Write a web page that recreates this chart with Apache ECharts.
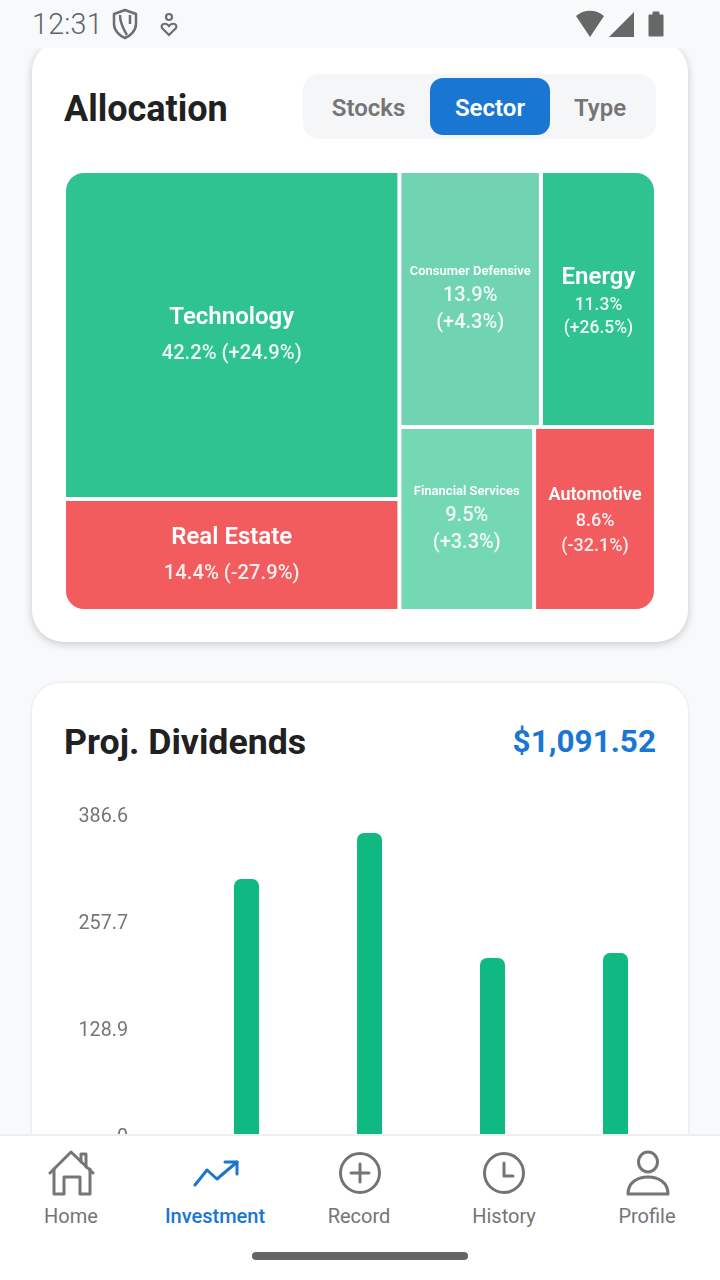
<!DOCTYPE html>
<html>
<head>
<meta charset="utf-8">
<script src="https://cdn.jsdelivr.net/npm/echarts@6/dist/echarts.min.js"></script>
<style>
html, body { margin: 0; padding: 0; background: #f8f9fb; }
body { width: 720px; height: 1280px; position: relative; overflow: hidden; font-family: Roboto, sans-serif; }
.abs { position: absolute; }
#scroll { left: 0; top: 48px; width: 720px; height: 1086px; overflow: hidden; }
.card { position: absolute; left: 32px; width: 656px; background: #fff; box-sizing: border-box; }
#card1 { top: -8px; height: 602px; border-radius: 32px; box-shadow: 0 2px 8px rgba(0,0,0,0.2); }
#card2 { top: 635px; height: 640px; border-radius: 28px; box-shadow: 0 0 3px rgba(0,0,0,0.12); }
.title { position: absolute; left: 64px; font-weight: 700; color: #212121; line-height: 40px; }
#tabs { position: absolute; left: 303px; top: 74px; width: 353px; height: 65px; background: #f5f6f8; border-radius: 16px; }
.tab { position: absolute; top: 4px; height: 57px; line-height: 61px; text-align: center; font-size: 24px; font-weight: 600; color: #757575; }
.tab.on { background: #1976d2; color: #fff; border-radius: 13px; }
#total { position: absolute; right: 64px; top: 722px; font-size: 31.5px; font-weight: 700; color: #1976d2; line-height: 40px; }
#treemap { position: absolute; left: 66px; top: 173px; width: 588px; height: 436px; border-radius: 18px; overflow: hidden; }
#bars { position: absolute; left: 32px; top: 780px; width: 656px; height: 400px; }
#nav { left: 0; top: 1134px; width: 720px; height: 146px; background: #fff; border-top: 2px solid #eeeeee; box-sizing: border-box; }
.nav-item { position: absolute; top: 1204px; width: 140px; text-align: center; font-size: 20px; line-height: 24px; color: #757575; }
.nav-item.on { color: #1976d2; font-weight: 500; }
.nav-ico { position: absolute; top: 1149px; width: 48px; height: 48px; fill: none; stroke: #757575; stroke-width: 3; stroke-linecap: round; stroke-linejoin: round; }
#homebar { left: 252px; top: 1252px; width: 216px; height: 8px; border-radius: 4px; background: #666; }
#time { left: 32px; top: 7px; font-size: 28.6px; font-weight: 300; line-height: 34px; color: #5f6368; letter-spacing: 0.3px; }
</style>
</head>
<body>
<div class="abs" id="time">12:31</div>
<svg class="abs" style="left:110px;top:8px" width="30" height="32" viewBox="0 0 30 32" fill="none" stroke="#6b6f72" stroke-width="2.5" stroke-linejoin="round"><path d="M15 2 L26 6 V16 C26 23 20 28 15 30 C10 28 4 23 4 16 V6 Z"/><path d="M10 7 C10 16 14 22 17 27 M20 7 V16"/></svg>
<svg class="abs" style="left:158px;top:12px" width="22" height="26" viewBox="0 0 22 26" fill="none" stroke="#6b6f72" stroke-width="2.2"><circle cx="11" cy="5" r="3"/><path d="M11 23 L4 16 C2 12 8 10 11 14 C14 10 20 12 18 16 Z"/></svg>
<svg class="abs" style="left:574px;top:10px" width="94" height="28" viewBox="0 0 94 28" fill="#656866"><path d="M2 6 C10 -1 22 -1 30 6 L16 27 Z"/><path d="M35 27 L60 2 V27 Z"/><path d="M75 5 H79 V2 H85 V5 H89 V26 H75 Z" stroke="#656866" stroke-linejoin="round"/></svg>

<div class="abs" id="scroll">
  <div class="card" id="card1"></div>
  <div class="card" id="card2"></div>
</div>

<div class="title" style="top:89px;font-size:36px">Allocation</div>
<div id="tabs">
  <div class="tab" style="left:2px;width:127px">Stocks</div>
  <div class="tab on" style="left:127px;width:120px">Sector</div>
  <div class="tab" style="left:247px;width:100px">Type</div>
</div>
<div id="treemap"></div>

<div class="title" style="top:722px;font-size:35.7px">Proj. Dividends</div>
<div id="total">$1,091.52</div>
<div id="bars"></div>

<div class="abs" id="nav"></div>
<svg class="nav-ico" style="left:47px" viewBox="0 0 48 48"><path d="M3 24 L24 3 L46 24"/><path d="M7 20 V45 H17 V28 H33 V45 H43 V20"/><path d="M34 13 V5 H39 V18"/></svg>
<svg class="nav-ico" style="left:191px;stroke:#1976d2" viewBox="0 0 48 48"><path d="M4 36 L16 21 L26 30 L46 13"/><path d="M34 13 H46 V25"/></svg>
<svg class="nav-ico" style="left:336px" viewBox="0 0 48 48"><circle cx="24" cy="24" r="19.5"/><path d="M24 15 V33 M15 24 H33"/></svg>
<svg class="nav-ico" style="left:480px" viewBox="0 0 48 48"><circle cx="24" cy="24" r="19.5"/><path d="M24 14 V27 H33"/></svg>
<svg class="nav-ico" style="left:624px" viewBox="0 0 48 48"><ellipse cx="24" cy="13" rx="9.5" ry="10"/><path d="M4 45 C4 33 14 28 24 28 C34 28 44 33 44 45 Z"/></svg>
<div class="nav-item" style="left:1px;">Home</div>
<div class="nav-item on" style="left:145px;">Investment</div>
<div class="nav-item" style="left:289px;">Record</div>
<div class="nav-item" style="left:434px;">History</div>
<div class="nav-item" style="left:577px;">Profile</div>
<div class="abs" id="homebar"></div>

<script>
// allocation by sector
var sectorNames = ['Technology', 'Real Estate', 'Consumer Defensive', 'Energy', 'Financial Services', 'Automotive'];
var sectorWeights = [42.2, 14.4, 13.9, 11.3, 9.5, 8.6];
var sectorChanges = ['+24.9%', '-27.9%', '+4.3%', '+26.5%', '+3.3%', '-32.1%'];

// projected dividends, x labels sit below the nav bar and are not visible
var divPeriods = ['P1', 'P2', 'P3', 'P4'];
var divValues = [309.5, 364.9, 214.4, 220.4];
var divMax = 386.6;

// tile grouping so the layout comes out the same as the picture
var tileTree = [
	['Technology', 'Real Estate'],
	[['Consumer Defensive', 'Energy'], ['Financial Services', 'Automotive']]
];

// label look of each tile. pad pushes the text down, rich text in a treemap tile starts at the top
var tileStyle = {
	'Technology': { color: '#2fc391', name: 24, num: 20.2, nameLh: 36, numLh: 36, pad: 127, wrap: false },
	'Real Estate': { color: '#f35c5e', name: 24, num: 20.2, nameLh: 36, numLh: 36, pad: 19, wrap: false },
	'Consumer Defensive': { color: '#70d3b2', name: 13, num: 20, nameLh: 21, numLh: 27, pad: 88, wrap: true },
	'Energy': { color: '#2fc391', name: 24, num: 17.5, nameLh: 33, numLh: 23, pad: 88, wrap: true },
	'Financial Services': { color: '#75d8b5', name: 13, num: 20, nameLh: 21, numLh: 27, pad: 52, wrap: true },
	'Automotive': { color: '#f35c5e', name: 18, num: 18, nameLh: 27.5, numLh: 24.5, pad: 53, wrap: true }
};

function leaf(name) {
	var i = sectorNames.indexOf(name);
	var st = tileStyle[name];
	var line = sectorWeights[i].toFixed(1) + '%' + (st.wrap ? '\n' : ' ') + '(' + sectorChanges[i] + ')';
	var txt = '{n|' + name + '}\n' + line.split('\n').map(function(l) { return '{v|' + l + '}'; }).join('\n');
	return {
		name: name,
		value: sectorWeights[i],
		itemStyle: { color: st.color },
		label: {
			padding: [st.pad, 0, 0, 0],
			formatter: txt,
			rich: {
				n: { fontFamily: 'Roboto', fontSize: st.name, fontWeight: 600, color: '#fff', lineHeight: st.nameLh, align: 'center' },
				v: { fontFamily: 'Roboto', fontSize: st.num, fontWeight: 500, color: 'rgba(255,255,255,0.9)', lineHeight: st.numLh, align: 'center' }
			}
		}
	};
}

function build(node) {
	if (typeof node === 'string') return leaf(node);
	var kids = node.map(build);
	var sum = 0;
	for (var i = 0; i < kids.length; i++) sum += kids[i].value;
	return { name: '', value: sum, children: kids };
}

var treeChart = echarts.init(document.getElementById('treemap'));
treeChart.setOption({
	animation: false,
	series: [{
		type: 'treemap',
		left: 0, top: 0, right: 0, bottom: 0,
		roam: false,
		nodeClick: false,
		silent: true,
		squareRatio: 1,
		breadcrumb: { show: false },
		itemStyle: { gapWidth: 4, borderWidth: 0, borderColor: '#fff' },
		upperLabel: { show: false },
		label: { show: true, position: 'inside', align: 'center', verticalAlign: 'middle', overflow: 'none' },
		data: tileTree.map(build)
	}]
});

var barChart = echarts.init(document.getElementById('bars'));
barChart.setOption({
	animation: false,
	grid: { left: 153, right: 11, top: 35, height: 321, containLabel: false },
	xAxis: {
		type: 'category',
		data: divPeriods,
		axisLine: { show: false },
		axisTick: { show: false },
		axisLabel: { show: false }
	},
	yAxis: {
		type: 'value',
		min: 0,
		max: divMax,
		interval: divMax / 3,
		splitLine: { show: false },
		axisLine: { show: false },
		axisTick: { show: false },
		axisLabel: {
			margin: 57,
			formatter: function(v) { return '{t|' + (v ? v.toFixed(1) : '0') + '}'; },
			rich: {
				t: { fontFamily: 'Roboto', fontSize: 19.7, color: '#757575', padding: [4, 0, 0, 0] }
			}
		}
	},
	series: [{
		type: 'bar',
		data: divValues,
		barWidth: 25,
		itemStyle: { color: '#10b981', borderRadius: [7, 7, 0, 0] }
	}]
});
</script>
</body>
</html>
